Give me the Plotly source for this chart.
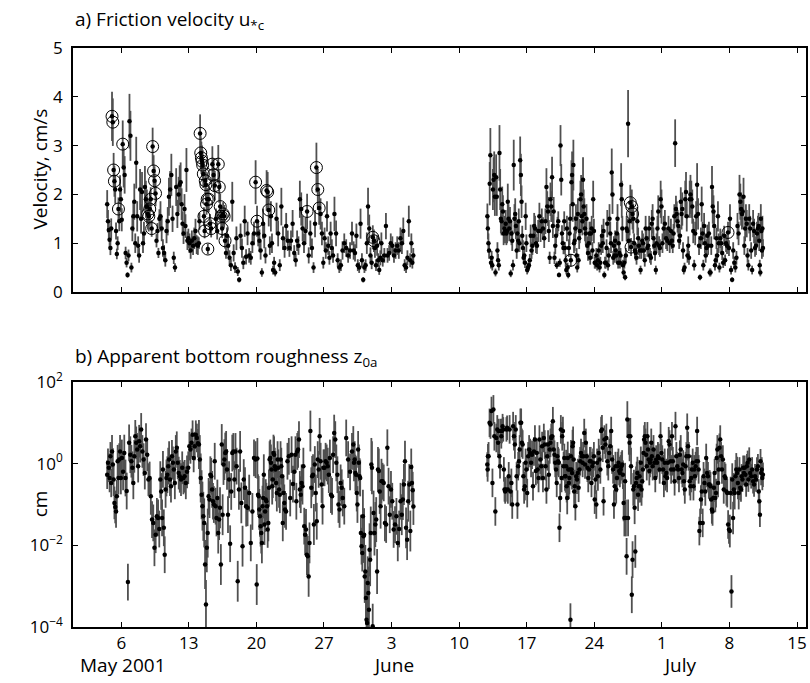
import pandas as pd
import plotly.graph_objects as go

T0 = pd.Timestamp("2001-05-01")

# Two deployments, times in days after 1 May 2001
SEG1_FIRST_DAY, SEG1_START, SEG1_END = 3, 3.5, 35.3
SEG2_FIRST_DAY, SEG2_START, SEG2_END = 42, 42.9, 71.5

# ---- a) friction velocity u*c (cm/s), one list of bursts per day ----
u_seg1 = [
    [1.8, 1.45, 1.27, 1.07, 0.9, 1.3],
    [3.6, 3.48, 2.5, 2.27, 2.1, 1.25, 0.78, 1.0, 1.7, 1.45, 2.1, 1.9],
    [1.48, 3.03, 2.55, 2.4, 0.8, 0.6, 0.35, 0.75, 3.5, 3.2],
    [0.5, 1.3, 1.55, 1.85, 1.0, 2.65, 1.55, 0.95, 0.75, 2.1],
    [1.5, 2.05, 1.0, 1.2, 2.15, 1.9, 1.75, 1.6, 1.55, 1.7],
    [1.9, 1.3, 2.98, 2.48, 2.28, 2.02, 1.05, 1.25, 0.8, 1.5],
    [1.55, 1.3, 0.9, 0.8, 0.65, 1.25, 1.45, 1.95],
    [2.1, 2.4, 1.5, 0.7, 0.5, 2.15, 1.6, 2.0],
    [2.2, 2.25, 1.8, 1.4, 1.2, 1.7, 1.35, 2.5, 1.05, 1.1],
    [1.0, 0.85, 1.05, 0.95, 1.1, 1.25, 0.97, 0.95],
    [1.0, 1.45, 3.25, 2.85, 2.75, 2.68, 2.6, 2.42, 1.55, 1.25, 2.28, 2.2, 1.8, 1.9, 0.88],
    [1.9, 1.4, 1.3, 2.62, 2.4, 2.18, 1.5, 1.25],
    [2.62, 2.15, 1.75, 1.55, 1.3, 1.6, 1.55, 1.05, 0.8, 1.15],
    [0.95, 0.7, 0.55, 1.85, 0.8, 0.5, 1.1],
    [0.42, 0.25, 1.15, 0.9, 0.6, 1.45, 0.72],
    [1.2, 0.75, 0.7, 1.0, 1.2, 2.25],
    [1.45, 1.2, 1.05, 0.85, 0.4, 1.4, 1.15, 0.75],
    [2.08, 2.05, 1.68, 0.95, 1.55, 1.0, 0.45, 0.6, 0.4],
    [1.5, 1.2, 0.55, 1.75, 1.1, 0.9],
    [1.35, 1.05, 0.9, 1.05, 1.4, 0.8],
    [0.65, 1.05, 0.95, 1.9, 1.7, 1.3, 1.0],
    [1.25, 1.65, 0.75, 1.2, 0.9, 0.5],
    [1.4, 2.55, 2.1, 1.72, 1.6, 1.2, 0.6],
    [1.1, 0.85, 1.55, 0.95, 0.7, 1.2, 0.9, 0.75],
    [1.6, 1.2, 0.65, 0.5, 0.55, 0.85],
    [1.0, 0.9, 0.75, 0.85, 1.2],
    [0.85, 0.8, 1.15, 0.55, 0.5, 1.4, 0.65],
    [0.25, 0.5, 0.55, 1.0, 1.75, 1.3, 0.75, 0.6],
    [1.12, 1.05, 0.9, 0.55, 0.95, 0.65, 0.45, 0.7, 1.0],
    [0.65, 0.75, 1.35, 0.75, 0.8, 1.0],
    [0.95, 0.75, 0.85, 0.95, 0.85, 1.1],
    [1.0, 1.25, 0.55, 0.5, 0.7, 1.45, 0.65],
    [1.0, 0.6, 0.75],
]
u_seg2 = [
    [1.55, 1.3],
    [1.0, 0.85, 2.22, 2.8, 0.6, 0.7, 0.55, 2.1, 2.3, 2.4, 1.95, 0.4, 2.35, 1.95, 0.85],
    [0.65, 0.55, 2.85, 2.1, 1.5, 1.45, 1.8, 1.65, 1.2, 1.3, 1.25, 1.4, 1.2, 1.25],
    [1.85, 1.5, 1.3, 1.45, 0.38, 1.2, 1.05, 0.55, 2.6, 1.5, 1.6, 1.35, 0.85],
    [1.2, 1.05, 1.45, 1.0, 2.7, 2.4, 1.85, 1.15, 0.9, 0.7, 0.75, 0.6, 1.55, 1.0],
    [0.45, 0.5, 0.55, 0.65, 1.15, 0.85, 0.95, 1.15, 1.35, 1.3, 1.0],
    [0.95, 1.25, 1.55, 1.25, 1.45, 1.3, 1.1, 1.45],
    [2.15, 1.75, 1.65, 1.25, 0.7, 1.9, 1.75, 2.35, 1.35, 1.65, 0.7, 0.95],
    [1.15, 0.55, 1.35, 1.45, 0.35, 0.6, 3.0, 2.3, 1.2, 1.0, 0.9, 1.45, 0.9],
    [0.65, 0.45, 1.3, 0.5, 0.35, 0.9, 1.2, 1.5, 0.65, 2.25, 2.4, 1.8, 2.6, 1.0, 1.05],
    [1.3, 1.5, 0.75, 0.5, 1.6, 0.65, 1.1, 1.25, 1.9, 2.0, 1.55, 1.45, 2.3, 1.75, 1.6],
    [1.3, 1.2, 1.5, 0.95, 0.8, 1.0, 1.2, 0.7, 1.2, 1.3, 0.85, 1.9, 1.25],
    [0.6, 0.6, 0.75, 0.55, 0.65, 0.85, 0.5, 0.6, 0.95, 1.15, 1.0, 1.25],
    [0.35, 0.6, 0.6, 0.9, 1.4, 0.55, 0.75, 1.5, 1.2, 1.0, 2.45, 2.0, 0.7],
    [0.95, 0.75, 1.05, 0.85, 0.75, 1.2, 1.5, 0.6, 1.0, 0.8, 0.6, 0.75, 2.2, 1.9, 1.3, 0.55],
    [0.4, 0.6, 0.3, 0.75, 1.3, 1.25, 3.45, 1.05, 1.45, 1.83, 0.92, 1.75, 1.6],
    [1.5, 1.0, 0.85, 0.8, 0.7, 1.45, 1.1, 0.95, 0.85, 0.45, 0.85, 1.05],
    [1.0, 0.85, 0.65, 1.3, 1.1, 0.9, 0.95, 1.3, 0.75, 0.7, 1.4],
    [1.5, 1.1, 0.95, 0.8, 0.45, 1.0, 1.3, 1.65, 0.95, 0.9, 1.9, 1.75],
    [1.0, 1.3, 1.4, 1.1, 1.05, 1.3, 1.0, 1.25],
    [1.05, 0.95, 1.2, 1.55, 3.05, 1.7, 1.6, 1.45, 1.35, 1.05, 1.15, 1.85],
    [1.6, 1.7, 0.85, 0.45, 0.5, 1.9, 2.05, 1.55, 0.75, 0.95, 0.7, 1.9, 2.0],
    [1.9, 1.75, 1.25, 0.55, 1.2, 1.55, 2.2, 1.6, 0.95, 0.3],
    [1.1, 1.8, 1.2, 0.55, 1.35, 1.0, 0.75, 0.9, 1.15, 0.95, 1.2, 0.4],
    [0.4, 0.95, 2.15, 1.75, 1.65, 1.35, 0.55, 0.65, 1.1, 0.75, 1.55, 1.0, 0.5],
    [1.1, 1.0, 0.8, 0.6, 1.15, 0.65, 1.0, 0.95, 1.22, 0.9],
    [1.5, 0.45, 0.25, 0.85, 0.6, 0.5, 0.7, 1.35, 1.2],
    [2.0, 1.85, 1.7, 1.6, 1.65, 1.95, 0.95, 1.3, 1.5, 1.4, 0.75, 0.55],
    [1.5, 1.3, 0.85, 0.45, 1.4, 1.25, 0.9, 0.95, 1.2, 1.3],
    [1.35, 1.05, 0.55, 0.4, 1.5, 1.25, 0.85, 1.3, 0.9],
]
# relative uncertainty of u*c, one value per day
u_rel_seg1 = [0.16, 0.14, 0.16, 0.2, 0.2, 0.13, 0.2, 0.18, 0.18, 0.2, 0.12, 0.14, 0.15,
              0.22, 0.22, 0.2, 0.22, 0.2, 0.22, 0.2, 0.2, 0.22, 0.2, 0.2, 0.22, 0.2,
              0.22, 0.22, 0.22, 0.2, 0.2, 0.22, 0.2]
u_rel_seg2 = [0.17, 0.2, 0.2, 0.2, 0.18, 0.2, 0.18, 0.18, 0.14, 0.2, 0.2, 0.2, 0.2, 0.2,
              0.2, 0.2, 0.2, 0.2, 0.2, 0.2, 0.16, 0.2, 0.2, 0.2, 0.2, 0.18, 0.2, 0.2,
              0.2, 0.2]
# bursts marked with an open circle: day -> positions in that day's list
u_marked = {4: [0, 1, 2, 3, 8], 5: [1], 7: [7, 8, 9], 8: [0, 1, 2, 3, 4, 5],
            13: list(range(2, 15)), 14: [0, 1, 2, 3, 4, 5], 15: list(range(8)),
            18: [5], 19: [0], 20: [0, 1, 2], 24: [1], 25: [1, 2, 3], 31: [0, 1],
            51: [8], 57: [9, 10, 11, 12], 67: [8]}

# ---- b) apparent bottom roughness z0a, log10(cm), one list per day ----
z_seg1 = [
    [-0.27, 0.02, -0.10, -0.35, 0.18, -0.47],
    [0.30, -0.02, -0.39, -0.96, -1.06, -1.17, -0.80, 0.06, -0.35, 0.10, 0.30, -0.35],
    [0.14, -0.20, 0.26, -0.35, -0.67, -2.90, 0.51, 0.22],
    [0.06, -0.10, -0.47, 0.18, 0.67, 0.51, 0.35, -0.06, 0.55, 0.43],
    [0.84, 0.30, 0.10, -0.23, 0.59, 0.22, -0.39, -0.35],
    [-0.80, -1.37, -1.45, -2.06, -1.74, -1.29, -1.33, -1.60],
    [-0.39, -0.68, -1.33, -0.14, -1.57, -2.23, -0.63, -0.35, -0.27, -0.06, 0.10],
    [-0.39, -0.55, 0.18, 0.02, -0.14, -0.47, 0.30, 0.39, 0.02, -0.23],
    [-0.31, -0.39, -0.10, -0.35, -0.31, -0.47, -0.20, -0.10],
    [0.43, 0.35, 0.51, 0.71, 0.14, 0.43, 0.71, 0.63, 0.50],
    [0.47, 0.10, -0.35, -0.76, -1.04, -1.29, -1.45, -2.47, -3.45, -2.06, -1.70],
    [-0.80, -0.88, -0.27, -0.31, -0.63, -0.92, -1.00, 0.06, -1.04, -1.33, -0.84],
    [-1.70, -1.37, -1.08, -2.47, 0.47, -1.25, -0.02, 0.10, 0.26, 0.30, -0.14],
    [-1.25, -0.39, -1.96, -0.68, 0.26, 0.30, -0.39, 0.30, -0.06],
    [-2.88, -0.63, 0.30, -0.96, -2.02, -0.39, -0.59, -1.04],
    [-1.08, -0.72, -1.94, -1.17, 0.14, 0.10],
    [-2.96, 0.13, -0.76, -0.80, -1.12, -1.29, -1.53, -1.70, -1.94, -1.04, -0.84, -0.27,
     -1.49, -1.17, -0.88],
    [-0.92, -1.04, -1.61, -1.45, -0.59, 0.10, 0.14, 0.02, -0.14, -0.55, -0.39, 0.26,
     0.22, -0.06, -0.14],
    [-0.47, -0.72, 0.10, -0.10, -0.63, -0.76, 0.10, -0.06, -0.31, -1.45, -0.72, -0.96,
     -1.12],
    [-1.17, 0.06, 0.18, -0.84, 0.22, -0.50, -0.20],
    [0.22, -0.92, 0.30, 0.35, 0.59, -0.63, -0.76, -0.47, -0.55, -0.06, -1.53],
    [-1.74, -1.61, -2.23, -2.27, -2.76, -1.94, 0.80, -0.59, -0.31, -0.27, -1.49],
    [-0.02, -0.72, -1.41, 0.10, -0.14, 0.67, 0.06, -0.51, -1.04, -0.10],
    [-0.10, 0.06, 0.02, -0.06, -0.27, 0.14, -0.76, -0.80, 0.22],
    [0.75, 0.59, 0.02, -0.27, -1.00, -1.12, -0.47, -0.59, -0.84],
    [-1.04, 0.63, 0.10, -0.20, 0.30],
    [0.47, 0.02, 0.10, -0.23, -0.27, -0.72, -1.00, 0.35, 0.02, -0.31, -0.35, -1.70,
     -2.02, -2.19],
    [-1.29, -1.78, -1.74, -2.76, -2.64, -3.29, -3.82, -3.90, -2.92, -3.17, -3.58, -2.11,
     -2.35, -1.70, -0.02, -0.10],
    [-3.98, -1.21, -1.70, -1.49, -1.37, -2.64, -0.14, -0.18, -0.68, -1.04, -0.43],
    [-0.43, -0.47, -1.45, -1.49, 0.39, -0.55, -1.25, -0.63],
    [-0.92, -1.61, -1.49, -1.29, -1.94, -1.60, -0.92],
    [-1.25, -0.88, -0.51, 0.06, -1.57, -1.86, -0.92, -0.51, -1.65],
    [-0.08, -0.47, -0.65, -1.05],
]
z_seg2 = [
    [-0.02, -0.14, 0.18],
    [0.18, 1.00, 0.96, 1.29, -0.47, 1.33, 0.67, -1.17, 0.63, 0.84],
    [0.51, 0.80, 0.18, -0.06, 0.80, 0.67, 0.80, 0.92, 0.84, -0.14, -0.63, -0.68, -0.63,
     0.84, 0.88],
    [-0.63, -0.31, 0.84, -0.68, -0.47, -1.00, 0.92, 0.67, 0.47, 0.84, -0.31],
    [-1.00, -0.06, 0.06, 0.35, 1.00, 1.00, 0.51, 0.47, -0.31, -0.63, -0.55, 0.02, -0.14],
    [-0.72, 0.18, 0.35, 0.26, 0.02, 0.22, -0.55, 0.30, 0.59, -0.18],
    [0.26, -0.14, -0.35, 0.59, 0.10, -0.06, 0.43, -0.35, 0.63, 0.47, -0.06],
    [-0.63, 0.18, 0.47, -0.27, 0.35, 0.51, 0.63, 0.67, 1.04, 0.35, 0.22, 0.02],
    [-0.14, -0.47, 0.18, 0.06, 0.02, -1.57, -0.84, 0.84, -0.35, 0.67, 0.80, -0.06, 0.14,
     -0.31],
    [-0.31, -0.06, -0.55, -0.84, 0.14, -0.14, -0.47, -0.35, -0.14, -3.82, 0.18, -0.14,
     -0.23, 0.43, 0.51, 0.10, -0.68, -0.55],
    [-1.04, -0.31, -0.39, -0.23, -0.59, -0.14, 0.06, 0.26, 0.18, 0.02, 0.18, 0.75],
    [-0.02, 0.51, 0.18, -0.10, -0.35, -0.14, 0.06, 0.06, -0.47, -0.06, 0.02, 0.18],
    [-0.88, -0.39, -1.00, 0.02, -0.31, 0.26, 0.10, -0.14, 0.80, 0.84, 0.39, -0.92],
    [0.59, 0.47, 0.63, 0.06, -0.06, 0.26, 0.43, 0.80, 0.10, -0.14],
    [-1.00, -0.55, -0.06, -0.63, -0.35, -0.06, 0.02, -0.18, -0.23, -0.14, -0.06, -0.02,
     -0.27],
    [-0.96, -1.33, -0.43, -1.33, -2.27, 1.08, -1.33, 0.67, 0.51, 0.67, -0.06, -3.21,
     -2.35],
    [-0.63, -0.55, -1.08, -2.15, -0.47, -0.35, -0.23, -0.76, -0.55, -0.31, -0.55, 0.02,
     -0.63, -0.43],
    [-0.14, 0.26, 0.59, 0.67, 0.51, 0.22, -0.06, 0.67, 0.35, 0.10, -0.18, 0.02, 0.10,
     0.51, 0.18],
    [-0.06, 0.35, 0.02, -0.35, 0.10, 0.02, 0.18, 0.14, -0.14, 0.67, 0.26],
    [0.10, -0.14, -0.47, 0.02, -0.31, -0.23, -0.35, 0.02, 0.55, 0.47, 0.06, -0.14],
    [0.67, 0.06, -0.14, -0.43, 0.92, 0.18, -0.06, -0.14, -0.35, 0.22, 0.35],
    [-0.14, -0.23, -0.02, -0.43, -0.63, -0.06, 0.18, 0.88, 0.43, 0.18, -0.43, -0.55],
    [-0.35, -0.14, 0.02, -0.55, -0.14, -0.31, -0.06, 0.06, 0.80, 0.06, -0.14, -1.65,
     -1.45],
    [-0.88, -0.68, -1.45, -0.31, -0.47, -0.68, 0.14, -0.23, -0.31, -0.51, -0.51],
    [-0.55, -0.88, -1.12, -1.17, -0.84, -0.59, -0.23, -0.84, -0.72, 0.14, 0.35, -0.47,
     -0.14, 0.39],
    [0.59, 0.18, -0.14, 0.10, -0.63, -0.31, -0.35, -0.68, -0.72, -1.49, -1.61],
    [-1.65, -0.72, -3.13, -0.39, -1.33, -0.63, -0.72, -0.31, -0.14, -0.23, -0.47, -0.72],
    [-0.14, -0.59, -0.63, -0.31, -0.39, -0.10, -0.23, -0.10, -0.27, -0.51, -0.06, 0.02,
     -0.39],
    [0.10, -0.23, -0.31, -0.14, -0.43, -0.51, -0.31, -0.39, -0.14, -0.06],
    [-0.68, -0.92, -1.25, 0.06, -0.23, -0.14, -0.35, -0.27],
]
# half-width of the z0a uncertainty in decades, one value per day
z_err_seg1 = [0.35, 0.4, 0.45, 0.4, 0.4, 0.45, 0.45, 0.4, 0.4, 0.35, 0.6, 0.45, 0.5,
              0.45, 0.5, 0.45, 0.5, 0.45, 0.45, 0.45, 0.45, 0.5, 0.45, 0.45, 0.45, 0.45,
              0.45, 0.65, 0.55, 0.45, 0.45, 0.5, 0.45]
z_err_seg2 = [0.3, 0.35, 0.3, 0.35, 0.35, 0.35, 0.35, 0.35, 0.35, 0.4, 0.35, 0.35, 0.35,
              0.35, 0.35, 0.45, 0.4, 0.35, 0.35, 0.35, 0.35, 0.35, 0.35, 0.35, 0.35,
              0.35, 0.4, 0.3, 0.3, 0.3]

# weekly ticks (days after 1 May) and their day-of-month labels
TICK_DAYS = [5, 12, 19, 26, 33, 40, 47, 54, 61, 68, 75]
TICK_TEXT = ["6", "13", "20", "27", "3", "10", "17", "24", "1", "8", "15"]
MONTHS = [("May 2001", 5.15, "center"), ("June", 33.2, "center"), ("July", 60.95, "left")]
X_END_DAY = 75.93


def burst_times(groups, first_day, start, end):
    t = []
    for k, g in enumerate(groups):
        d = first_day + k
        a, b = max(d, start), min(d + 1, end)
        t += [a + (i + 0.5) * (b - a) / len(g) for i in range(len(g))]
    return t


def to_date(days):
    return [T0 + pd.Timedelta(days=float(d)) for d in days]


t_u, u, u_err, mark_t, mark_u = [], [], [], [], []
t_z, z, z_plus, z_minus = [], [], [], []
for groups, rel, zg, ze, first, start, end in [
        (u_seg1, u_rel_seg1, z_seg1, z_err_seg1, SEG1_FIRST_DAY, SEG1_START, SEG1_END),
        (u_seg2, u_rel_seg2, z_seg2, z_err_seg2, SEG2_FIRST_DAY, SEG2_START, SEG2_END)]:
    tt = burst_times(groups, first, start, end)
    pos = 0
    for k, g in enumerate(groups):
        day = first + k
        for i, v in enumerate(g):
            t_u.append(tt[pos + i])
            u.append(v)
            u_err.append(v * rel[k])
            if i in u_marked.get(day, []):
                mark_t.append(tt[pos + i])
                mark_u.append(v)
        pos += len(g)
    tz = burst_times(zg, first, start, end)
    for k, g in enumerate(zg):
        for v in g:
            val = 10 ** v
            z.append(val)
            z_plus.append(val * (10 ** ze[k] - 1))
            z_minus.append(val * (1 - 10 ** (-ze[k])))
    t_z += tz

FONT = "Open Sans"
BAR = "#505050"
TXT = 19

fig = go.Figure()
fig.add_trace(go.Scatter(
    x=to_date(t_u), y=u, mode="markers", xaxis="x", yaxis="y",
    marker=dict(size=4.5, color="black"),
    error_y=dict(type="data", array=u_err, color=BAR, thickness=1.8, width=0),
    showlegend=False, hoverinfo="skip"))
fig.add_trace(go.Scatter(
    x=to_date(mark_t), y=mark_u, mode="markers", xaxis="x", yaxis="y",
    marker=dict(symbol="circle-open", size=12, color="black", line=dict(width=1)),
    showlegend=False, hoverinfo="skip"))
fig.add_trace(go.Scatter(
    x=to_date(t_z), y=z, mode="markers", xaxis="x2", yaxis="y2",
    marker=dict(size=4.5, color="black"),
    error_y=dict(type="data", symmetric=False, array=z_plus, arrayminus=z_minus,
                 color=BAR, thickness=1.8, width=0),
    showlegend=False, hoverinfo="skip"))

xr = [T0, T0 + pd.Timedelta(days=X_END_DAY)]
tickdates = to_date(TICK_DAYS)
common_x = dict(range=xr, tickvals=tickdates, ticks="inside", ticklen=5,
                tickcolor="black", tickwidth=1, showline=True, linecolor="black",
                linewidth=1.5, mirror="ticks", showgrid=False, zeroline=False)
common_y = dict(ticks="inside", ticklen=5, tickcolor="black", tickwidth=1,
                showline=True, linecolor="black", linewidth=1.5, mirror="ticks",
                showgrid=False, zeroline=False, ticklabelstandoff=5)

annotations = [
    dict(text="a) Friction velocity u<sub>*c</sub>", x=0, y=1.048, xref="paper",
         yref="paper", xanchor="left", yanchor="middle", showarrow=False,
         font=dict(size=TXT)),
    dict(text="b) Apparent bottom roughness z<sub>0a</sub>", x=0, y=0.466,
         xref="paper", yref="paper", xanchor="left", yanchor="middle",
         showarrow=False, font=dict(size=TXT)),
    dict(text="Velocity, cm/s", x=-0.045, y=0.79, xref="paper", yref="paper",
         xanchor="center", yanchor="middle", textangle=-90, showarrow=False,
         font=dict(size=TXT)),
    dict(text="cm", x=-0.045, y=0.212, xref="paper", yref="paper",
         xanchor="center", yanchor="middle", textangle=-90, showarrow=False,
         font=dict(size=TXT)),
]
for label, day, anchor in MONTHS:
    annotations.append(dict(text=label, x=T0 + pd.Timedelta(days=day), y=-0.066,
                            xref="x2", yref="paper", xanchor=anchor, yanchor="middle",
                            showarrow=False, font=dict(size=TXT)))

fig.update_layout(
    width=810, height=683,
    margin=dict(l=73, r=2, t=48, b=56),
    paper_bgcolor="white", plot_bgcolor="white",
    font=dict(family=FONT, size=17, color="black"),
    xaxis=dict(domain=[0, 1], anchor="y", showticklabels=False, **common_x),
    yaxis=dict(domain=[0.5786, 1], anchor="x", range=[0, 5], dtick=1, **common_y),
    xaxis2=dict(domain=[0, 1], anchor="y2", ticktext=TICK_TEXT, **common_x),
    yaxis2=dict(domain=[0, 0.4231], anchor="x2", type="log", range=[-4, 2],
                tickvals=[1e-4, 1e-2, 1, 100],
                ticktext=["10<sup>\u22124</sup>", "10<sup>\u22122</sup>",
                          "10<sup>0</sup>", "10<sup>2</sup>"], **common_y),
    annotations=annotations,
)

fig.write_html("out.html")
